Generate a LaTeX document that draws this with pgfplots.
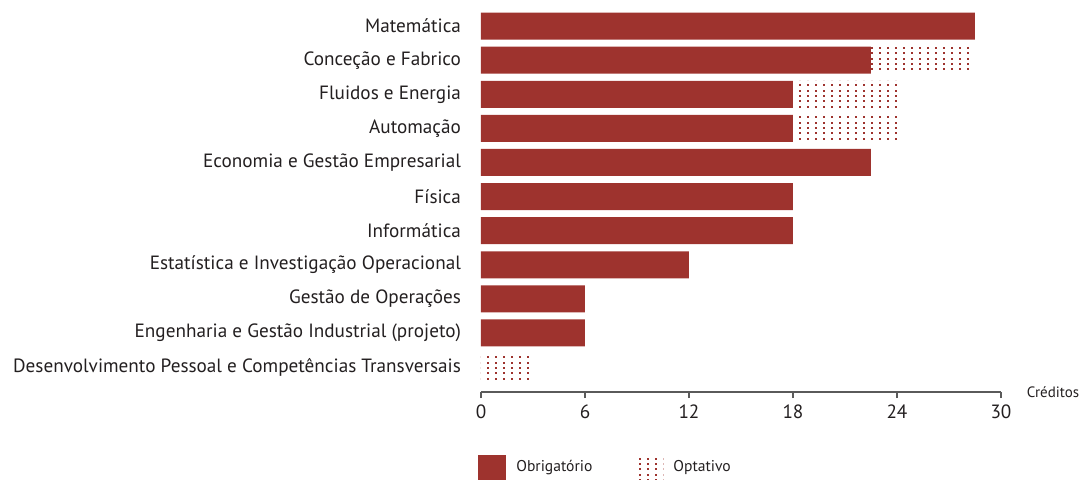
\documentclass[border=0pt]{standalone}
\usepackage{fontspec}
\setmainfont{PT Sans}
\usepackage{pgfplots}
\pgfplotsset{compat=1.18}
\usetikzlibrary{patterns}
\definecolor{barred}{RGB}{158,51,46}
\definecolor{txt}{RGB}{35,31,32}
\definecolor{axisgray}{RGB}{90,90,90}
\pgfdeclarepatternformonly{gdots}{\pgfpoint{-0.7pt}{-0.7pt}}{\pgfpoint{0.7pt}{0.7pt}}{\pgfpoint{4pt}{2.667pt}}{\pgfpathrectangle{\pgfpoint{-0.55pt}{-0.55pt}}{\pgfpoint{1.1pt}{1.1pt}}\pgfusepath{fill}}
\begin{document}
\begin{tikzpicture}
\useasboundingbox (-240.5pt,-44pt) rectangle (300pt,196pt);
\begin{axis}[at={(0,0)}, anchor=south west, scale only axis,
  width=260pt, height=191.5pt,
  xbar stacked, bar width=13.5pt,
  xmin=0, xmax=30, ymin=-0.5, ymax=10.73, y dir=reverse,
  axis x line=bottom, axis y line=left,
  x axis line style={-, draw=axisgray, line width=0.6pt},
  y axis line style={draw=none},
  xtick={0,6,...,30}, tick align=outside, major tick length=3pt,
  xtick style={draw=axisgray, line width=0.6pt},
  ytick={0,...,10}, ytick style={draw=none},
  yticklabels={Matemática, Conceção e Fabrico, Fluidos e Energia, Automação, Economia e Gestão Empresarial, Física, Informática, Estatística e Investigação Operacional, Gestão de Operações, Engenharia e Gestão Industrial (projeto), Desenvolvimento Pessoal e Competências Transversais},
  ticklabel style={font=\fontsize{9.6}{11}\selectfont, text=txt},
  /pgf/number format/assume math mode=true,
  yticklabel style={xshift=-3.5pt},
  legend columns=2,
  legend style={at={(rel axis cs:0,0)}, anchor=west, xshift=-4.5pt, yshift=-37.5pt, draw=none, fill=none,
    font=\fontsize{7.8}{9}\selectfont, text=txt,
    /tikz/every odd column/.append style={column sep=3pt},
    /tikz/every even column/.append style={column sep=20.5pt}},
  clip=false,
]
\addplot[fill=barred, draw=none,
  legend image code/.code={\fill[barred] (0pt,-6.25pt) rectangle (14pt,6.25pt);}]
  coordinates {(28.5,0) (22.5,1) (18,2) (18,3) (22.5,4) (18,5) (18,6) (12,7) (6,8) (6,9) (0,10)};
\addlegendentry{Obrigatório}
\addplot[pattern=gdots, pattern color=barred, draw=none,
  legend image code/.code={\fill[pattern=gdots, pattern color=barred] (0pt,-6.25pt) rectangle (13pt,6.25pt);}]
  coordinates {(0,0) (6,1) (6,2) (6,3) (0,4) (0,5) (0,6) (0,7) (0,8) (0,9) (3,10)};
\addlegendentry{Optativo}
\node[font=\fontsize{7.5}{9}\selectfont, text=txt] at ([xshift=26pt]rel axis cs:1,0) {Créditos};
\end{axis}
\end{tikzpicture}
\end{document}
